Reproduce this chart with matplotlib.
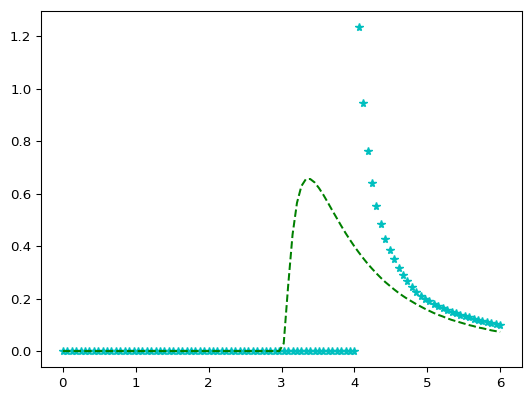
import numpy as np
import matplotlib
matplotlib.use("Agg")
import matplotlib.pyplot as plt

# sample grid shared by both series (100 points from 0 to 6)
x = np.linspace(0, 6, 100)

# cyan stars: flat at zero up to x=4, then a steep drop-off
star_y = [
    0.0, 0.0, 0.0, 0.0, 0.0, 0.0, 0.0, 0.0, 0.0, 0.0,
    0.0, 0.0, 0.0, 0.0, 0.0, 0.0, 0.0, 0.0, 0.0, 0.0,
    0.0, 0.0, 0.0, 0.0, 0.0, 0.0, 0.0, 0.0, 0.0, 0.0,
    0.0, 0.0, 0.0, 0.0, 0.0, 0.0, 0.0, 0.0, 0.0, 0.0,
    0.0, 0.0, 0.0, 0.0, 0.0, 0.0, 0.0, 0.0, 0.0, 0.0,
    0.0, 0.0, 0.0, 0.0, 0.0, 0.0, 0.0, 0.0, 0.0, 0.0,
    0.0, 0.0, 0.0, 0.0, 0.0, 0.0, 0.0,
    1.236, 0.947, 0.764, 0.640, 0.555, 0.485, 0.427, 0.386,
    0.350, 0.317, 0.291, 0.266, 0.245, 0.227, 0.211, 0.200,
    0.190, 0.181, 0.172, 0.164, 0.157, 0.150, 0.144, 0.139,
    0.134, 0.129, 0.124, 0.119, 0.115, 0.111, 0.107, 0.103,
    0.099,
]

# green dashed curve: zero up to x=3, sharp hump, long tail
curve_y = [
    0.0, 0.0, 0.0, 0.0, 0.0, 0.0, 0.0, 0.0, 0.0, 0.0,
    0.0, 0.0, 0.0, 0.0, 0.0, 0.0, 0.0, 0.0, 0.0, 0.0,
    0.0, 0.0, 0.0, 0.0, 0.0, 0.0, 0.0, 0.0, 0.0, 0.0,
    0.0, 0.0, 0.0, 0.0, 0.0, 0.0, 0.0, 0.0, 0.0, 0.0,
    0.0, 0.0, 0.0, 0.0, 0.0, 0.0, 0.0, 0.0, 0.0, 0.0,
    0.029, 0.248, 0.444, 0.565, 0.629, 0.655, 0.656, 0.643,
    0.621, 0.595, 0.566, 0.536, 0.507, 0.478, 0.450, 0.424,
    0.399, 0.376, 0.354, 0.333, 0.314, 0.296, 0.279, 0.263,
    0.249, 0.235, 0.222, 0.210, 0.199, 0.189, 0.179, 0.170,
    0.161, 0.153, 0.145, 0.138, 0.132, 0.125, 0.119, 0.114,
    0.109, 0.104, 0.099, 0.095, 0.090, 0.087, 0.083, 0.079,
    0.076, 0.073,
]

s = 0.967
plt.rcParams['font.size'] = 10 * s
plt.rcParams['axes.linewidth'] = 0.8 * s
plt.rcParams['xtick.major.size'] = 3.5 * s
plt.rcParams['ytick.major.size'] = 3.5 * s
plt.rcParams['xtick.major.width'] = 0.8 * s
plt.rcParams['ytick.major.width'] = 0.8 * s

fig = plt.figure(figsize=(5.29, 4.0), dpi=100)
ax = fig.add_axes([0.0775, 0.0818, 0.9093, 0.8915])

ax.plot(x, star_y, 'c*', markersize=6 * s)
ax.plot(x, curve_y, 'g--', linewidth=1.5 * s)

fig.savefig("out.png", dpi=100)
